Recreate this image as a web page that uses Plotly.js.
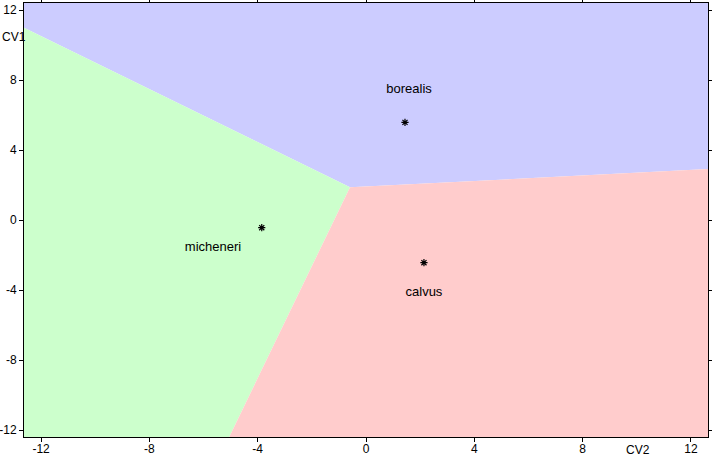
<!DOCTYPE html>
<html>
<head>
<meta charset="utf-8">
<script src="https://cdn.plot.ly/plotly-3.0.1.min.js"></script>
<style>html,body{margin:0;padding:0;background:#fff;}#chart{width:712px;height:457px;}</style>
</head>
<body>
<div id="chart"></div>
<script>
// Territorial map regions (CV2 = x, CV1 = y)
const groups = ["borealis", "micheneri", "calvus"];
const borealisX = [-12.63, 12.63, 12.63, -0.59, -12.63];
const borealisY = [12.4, 12.4, 2.91, 1.87, 10.99];
const michineriX = [-12.63, -0.59, -5.05, -12.63];
const michineriY = [10.99, 1.87, -12.4, -12.4];
const calvusX = [-0.59, 12.63, 12.63, -5.05];
const calvusY = [1.87, 2.91, -12.4, -12.4];
// Group centroids
const centroidX = [1.44, -3.85, 2.14];
const centroidY = [5.58, -0.44, -2.44];
// Group label anchors
const labelX = [1.59, -5.65, 2.14];
const labelY = [7.43, -1.58, -4.13];
const tickVals = [-12, -8, -4, 0, 4, 8, 12];

const regionX = [borealisX, michineriX, calvusX];
const regionY = [borealisY, michineriY, calvusY];
const fills = ["#ccccff", "#ccffcc", "#ffcccc"];

const traces = groups.map((g, i) => ({
  type: "scatter", mode: "lines", x: regionX[i], y: regionY[i],
  fill: "toself", fillcolor: fills[i], line: {width: 0, color: fills[i]},
  hoverinfo: "skip", showlegend: false
}));
traces.push({
  type: "scatter", mode: "markers", x: centroidX, y: centroidY,
  marker: {symbol: "asterisk-open", size: 6, color: "#000", line: {width: 1.2, color: "#000"}},
  showlegend: false
});
traces.push({
  type: "scatter", mode: "text", x: labelX, y: labelY, text: groups,
  textfont: {family: "Liberation Sans, Arial, sans-serif", size: 13, color: "#000"},
  textposition: "middle center", showlegend: false
});

const axisCommon = {
  showgrid: false, zeroline: false, showline: true, linecolor: "#000", linewidth: 1,
  mirror: "ticks", ticks: "outside", ticklen: 4, tickwidth: 1, tickcolor: "#000",
  tickvals: tickVals, ticktext: tickVals.map(String),
  tickfont: {family: "Liberation Sans, Arial, sans-serif", size: 12, color: "#000"}
};

const layout = {
  width: 712, height: 457,
  margin: {l: 24, r: 4, t: 3, b: 20, pad: 0},
  paper_bgcolor: "#fff", plot_bgcolor: "#fff",
  xaxis: Object.assign({}, axisCommon, {range: [-12.63, 12.63], ticklabelstandoff: -3}),
  yaxis: Object.assign({}, axisCommon, {range: [-12.4, 12.4]}),
  annotations: [
    {text: "CV1", xref: "paper", yref: "paper", x: -24/684, y: 1 - 34/434, xanchor: "left", yanchor: "middle", showarrow: false,
     font: {family: "Liberation Sans, Arial, sans-serif", size: 12, color: "#000"}},
    {text: "CV2", xref: "paper", yref: "paper", x: (638-24)/684, y: -13/434, xanchor: "center", yanchor: "middle", showarrow: false,
     font: {family: "Liberation Sans, Arial, sans-serif", size: 12, color: "#000"}}
  ]
};
Plotly.newPlot("chart", traces, layout, {staticPlot: true, displayModeBar: false});
</script>
</body>
</html>
